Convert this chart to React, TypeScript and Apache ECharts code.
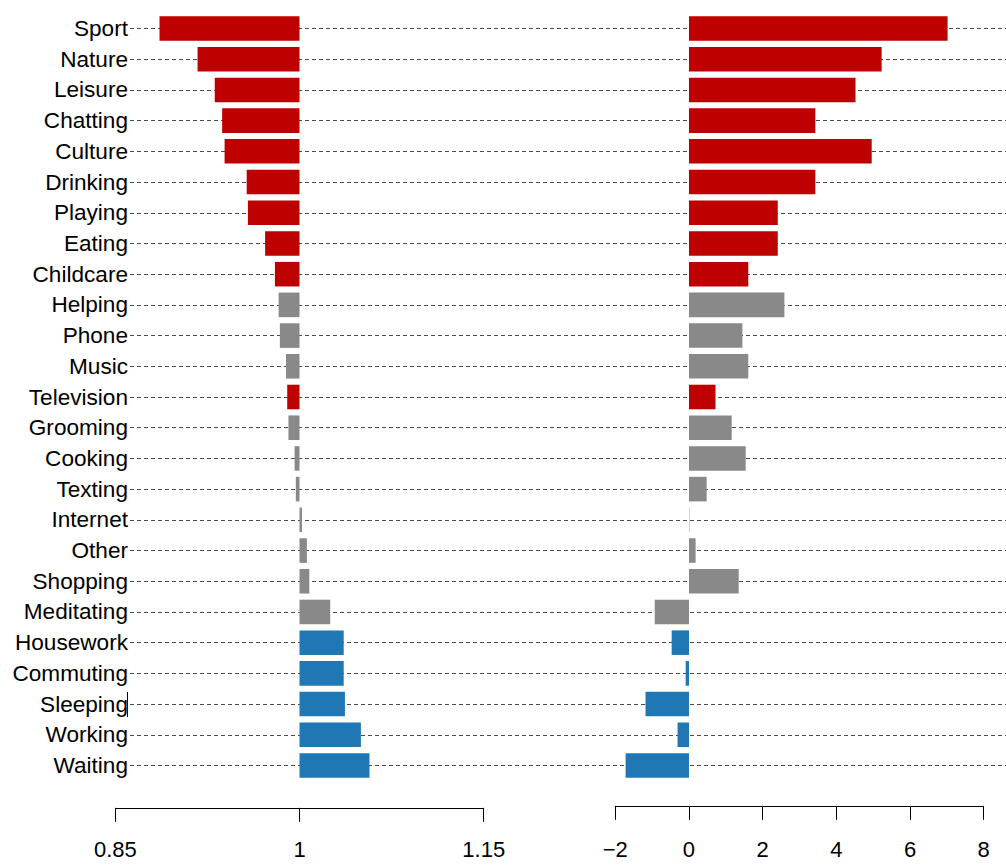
import React, { useEffect, useRef } from "react";
import * as echarts from "echarts";

const categories = [
  "Sport", "Nature", "Leisure", "Chatting", "Culture", "Drinking", "Playing", "Eating",
  "Childcare", "Helping", "Phone", "Music", "Television", "Grooming", "Cooking", "Texting",
  "Internet", "Other", "Shopping", "Meditating", "Housework", "Commuting", "Sleeping",
  "Working", "Waiting",
];

// left panel: ratio values (baseline 1)
const ratioValues = [
  0.886, 0.917, 0.931, 0.937, 0.939, 0.957, 0.958, 0.972, 0.980, 0.983, 0.984, 0.989,
  0.990, 0.991, 0.996, 0.997, 1.002, 1.006, 1.008, 1.025, 1.036, 1.036, 1.037, 1.050, 1.057,
];

// right panel: effect values (baseline 0)
const effectValues = [
  7.02, 5.23, 4.52, 3.43, 4.96, 3.43, 2.41, 2.41, 1.61, 2.59, 1.45, 1.61, 0.72, 1.16,
  1.54, 0.48, 0.01, 0.18, 1.35, -0.93, -0.47, -0.09, -1.18, -0.31, -1.72,
];

// group of each category: "pos" (red), "mid" (grey), "neg" (blue)
const groups = [
  "pos", "pos", "pos", "pos", "pos", "pos", "pos", "pos", "pos", "mid", "mid", "mid",
  "pos", "mid", "mid", "mid", "mid", "mid", "mid", "mid", "neg", "neg", "neg", "neg", "neg",
];

const leftTicks = { min: 0.85, max: 1.15, interval: 0.15 };
const rightTicks = { min: -2, max: 8, interval: 2 };

const groupColors: Record<string, string> = {
  pos: "#BE0000",
  mid: "#898989",
  neg: "#1F78B4",
};

const FONT = "'Liberation Sans', Arial, Helvetica, sans-serif";

export default function App() {
  const ref = useRef<HTMLDivElement>(null);

  useEffect(() => {
    if (!ref.current) return;
    const chart = echarts.init(ref.current, null, { renderer: "svg" });

    const rowTop = 28.5;
    const rowBottom = 765.5;
    const band = (rowBottom - rowTop) / (categories.length - 1);
    const barGridTop = rowTop - band / 2;
    const barGridHeight = band * categories.length;

    const fmtLeft = (v: number) => String(Number((1 + v).toFixed(2)));
    const fmtRight = (v: number) => (v < 0 ? "\u2212" + String(-v) : String(v));

    const axisCommon = (offset: number, margin: number) => ({
      type: "value" as const,
      offset,
      axisLine: { show: true, lineStyle: { color: "#000", width: 1 } },
      axisTick: { show: true, length: 14, lineStyle: { color: "#000", width: 1 } },
      splitLine: { show: false },
      axisLabel: {
        color: "#000",
        fontSize: 22,
        fontFamily: FONT,
        margin,
        showMinLabel: true,
        showMaxLabel: true,
      },
    });

    const option: any = {
      animation: false,
      backgroundColor: "#fff",
      grid: [
        // overlay grid for labels and dashed lines
        { left: 130, top: rowTop, width: 876, height: rowBottom - rowTop },
        { left: 115.3, top: barGridTop, width: 368.4, height: barGridHeight },
        { left: 615.3, top: barGridTop, width: 368.4, height: barGridHeight },
      ],
      xAxis: [
        { type: "value", gridIndex: 0, min: 0, max: 1, show: false },
        {
          ...axisCommon(27, 31),
          gridIndex: 1,
          min: leftTicks.min - 1,
          max: leftTicks.max - 1,
          interval: leftTicks.interval,
          axisLabel: { ...axisCommon(27, 31).axisLabel, formatter: fmtLeft },
        },
        {
          ...axisCommon(25, 33),
          gridIndex: 2,
          min: rightTicks.min,
          max: rightTicks.max,
          interval: rightTicks.interval,
          axisLabel: { ...axisCommon(25, 33).axisLabel, formatter: fmtRight },
        },
      ],
      yAxis: [
        {
          type: "category",
          gridIndex: 0,
          data: categories,
          inverse: true,
          boundaryGap: false,
          axisLine: { show: false },
          axisTick: { show: false },
          axisLabel: {
            interval: 0,
            margin: 2,
            color: "#000",
            fontSize: 22.6,
            fontFamily: FONT,
          },
          splitLine: {
            show: true,
            interval: 0,
            lineStyle: { color: "#4a4a4a", width: 1, type: [4, 3] },
          },
        },
        {
          type: "category",
          gridIndex: 1,
          data: categories,
          inverse: true,
          show: false,
        },
        {
          type: "category",
          gridIndex: 2,
          data: categories,
          inverse: true,
          show: false,
        },
      ],
      series: [
        {
          type: "scatter",
          xAxisIndex: 0,
          yAxisIndex: 0,
          data: [],
          silent: true,
        },
        {
          type: "bar",
          xAxisIndex: 1,
          yAxisIndex: 1,
          barWidth: "80%",
          z: 5,
          data: ratioValues.map((v, i) => ({
            value: v - 1,
            itemStyle: { color: groupColors[groups[i]] },
          })),
        },
        {
          type: "bar",
          xAxisIndex: 2,
          yAxisIndex: 2,
          barWidth: "80%",
          z: 5,
          data: effectValues.map((v, i) => ({
            value: v,
            itemStyle: { color: groupColors[groups[i]] },
          })),
        },
      ],
      graphic: [
        {
          type: "line",
          shape: { x1: 127.5, y1: 692, x2: 127.5, y2: 717 },
          style: { stroke: "#000", lineWidth: 1 },
          z: 10,
        },
      ],
    };

    chart.setOption(option);
    return () => chart.dispose();
  }, []);

  return (
    <div
      ref={ref}
      style={{ position: "fixed", left: 0, top: 0, width: 1006, height: 867, background: "#fff" }}
    />
  );
}
